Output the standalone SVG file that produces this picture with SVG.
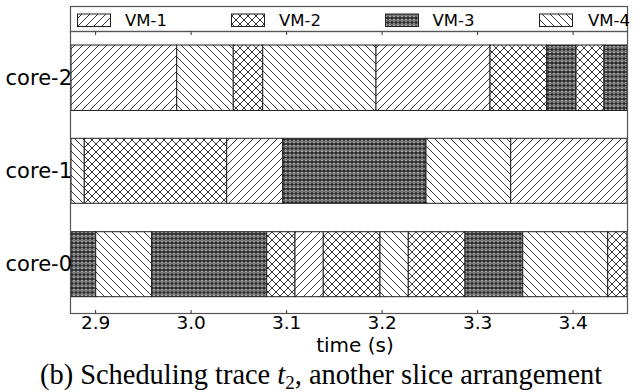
<svg xmlns="http://www.w3.org/2000/svg" width="639" height="392" viewBox="0 0 639 392">
<style>
.seg{stroke:#222;stroke-width:1}
.vm1{fill:url(#h1)}
.vm2{fill:url(#h2)}
.vm3{fill:url(#h3)}
.vm4{fill:url(#h4)}
.frame{fill:none;stroke:#555;stroke-width:1.2}
.tick{stroke:#333;stroke-width:1}
.lbl{font-family:"DejaVu Sans",sans-serif;font-size:21px;fill:#000}
.tl{font-family:"DejaVu Sans",sans-serif;font-size:18.5px;fill:#000;text-anchor:middle}
.leg{font-family:"DejaVu Sans",sans-serif;font-size:16.5px;fill:#000}
.cap{font-family:"Liberation Serif","Times New Roman",serif;font-size:28.4px;fill:#000}
</style>
<defs>
<pattern id="h1" patternUnits="userSpaceOnUse" width="8" height="8">
<rect width="8" height="8" fill="#fff"/>
<path d="M-2,2 L2,-2 M0,8 L8,0 M6,10 L10,6" stroke="#222" stroke-width="0.9"/>
</pattern>
<pattern id="h4" patternUnits="userSpaceOnUse" width="8" height="8">
<rect width="8" height="8" fill="#fff"/>
<path d="M-2,6 L2,10 M0,0 L8,8 M6,-2 L10,2" stroke="#222" stroke-width="0.9"/>
</pattern>
<pattern id="h2" patternUnits="userSpaceOnUse" width="8" height="8">
<rect width="8" height="8" fill="#fff"/>
<path d="M-2,2 L2,-2 M0,8 L8,0 M6,10 L10,6 M-2,6 L2,10 M0,0 L8,8 M6,-2 L10,2" stroke="#222" stroke-width="0.9"/>
</pattern>
<pattern id="h3" patternUnits="userSpaceOnUse" width="4" height="4.5">
<rect width="4" height="4.5" fill="#2a2a2a"/>
<circle cx="2" cy="2.25" r="1.2" fill="none" stroke="#eee" stroke-width="0.8"/>
</pattern>
</defs>

<g id="legend">
<rect x="70.5" y="6.5" width="557" height="25" fill="#fff" stroke="#555" stroke-width="1.2"/>
<rect class="seg vm1" x="77.5" y="14" width="33" height="12.5"/>
<text class="leg" x="125" y="26">VM-1</text>
<rect class="seg vm2" x="231.5" y="14" width="33" height="12.5"/>
<text class="leg" x="279" y="26">VM-2</text>
<rect class="seg vm3" x="385.5" y="14" width="33" height="12.5"/>
<text class="leg" x="432.5" y="26">VM-3</text>
<rect class="seg vm4" x="539.5" y="14" width="33" height="12.5"/>
<text class="leg" x="588" y="26">VM-4</text>
</g>

<g id="core-2">
<rect class="seg vm1" x="71" y="45" width="105.7" height="65.5"/>
<rect class="seg vm4" x="176.7" y="45" width="56.6" height="65.5"/>
<rect class="seg vm2" x="233.3" y="45" width="29.4" height="65.5"/>
<rect class="seg vm4" x="262.7" y="45" width="113.3" height="65.5"/>
<rect class="seg vm1" x="376" y="45" width="114" height="65.5"/>
<rect class="seg vm2" x="490" y="45" width="56.7" height="65.5"/>
<rect class="seg vm3" x="546.7" y="45" width="29.3" height="65.5"/>
<rect class="seg vm2" x="576" y="45" width="28" height="65.5"/>
<rect class="seg vm3" x="604" y="45" width="23" height="65.5"/>
</g>

<g id="core-1">
<rect class="seg vm4" x="71" y="138.3" width="13.3" height="65"/>
<rect class="seg vm2" x="84.3" y="138.3" width="142.4" height="65"/>
<rect class="seg vm1" x="226.7" y="138.3" width="56" height="65"/>
<rect class="seg vm3" x="282.7" y="138.3" width="143.3" height="65"/>
<rect class="seg vm4" x="426" y="138.3" width="84.7" height="65"/>
<rect class="seg vm1" x="510.7" y="138.3" width="116.3" height="65"/>
</g>

<g id="core-0">
<rect class="seg vm3" x="71" y="231.7" width="24.7" height="65"/>
<rect class="seg vm4" x="95.7" y="231.7" width="56" height="65"/>
<rect class="seg vm3" x="151.7" y="231.7" width="115" height="65"/>
<rect class="seg vm2" x="266.7" y="231.7" width="28.3" height="65"/>
<rect class="seg vm1" x="295" y="231.7" width="28.3" height="65"/>
<rect class="seg vm2" x="323.3" y="231.7" width="56.7" height="65"/>
<rect class="seg vm4" x="380" y="231.7" width="28.3" height="65"/>
<rect class="seg vm2" x="408.3" y="231.7" width="56.7" height="65"/>
<rect class="seg vm3" x="465" y="231.7" width="57.7" height="65"/>
<rect class="seg vm4" x="522.7" y="231.7" width="85" height="65"/>
<rect class="seg vm2" x="607.7" y="231.7" width="19.3" height="65"/>
</g>

<g id="axes">
<rect class="frame" x="70.5" y="31.5" width="557" height="282"/>
<path class="tick" d="M95.6,31.5v3.5 M191.1,31.5v3.5 M286.6,31.5v3.5 M382.1,31.5v3.5 M477.6,31.5v3.5 M573.1,31.5v3.5 M95.6,313.5v-3.5 M191.1,313.5v-3.5 M286.6,313.5v-3.5 M382.1,313.5v-3.5 M477.6,313.5v-3.5 M573.1,313.5v-3.5"/>
<text class="tl" x="95.6" y="328.5">2.9</text>
<text class="tl" x="191.1" y="328.5">3.0</text>
<text class="tl" x="286.6" y="328.5">3.1</text>
<text class="tl" x="382.1" y="328.5">3.2</text>
<text class="tl" x="477.6" y="328.5">3.3</text>
<text class="tl" x="573.1" y="328.5">3.4</text>
<text class="tl" x="355" y="352" style="font-size:20px">time (s)</text>
<text class="lbl" x="72" y="85" text-anchor="end">core-2</text>
<text class="lbl" x="72" y="178" text-anchor="end">core-1</text>
<text class="lbl" x="72" y="271" text-anchor="end">core-0</text>
</g>

<text class="cap" x="40" y="383.5">(b) Scheduling trace <tspan font-style="italic">t</tspan><tspan font-size="19" dy="5">2</tspan><tspan dy="-5">, another slice arrangement</tspan></text>
</svg>
